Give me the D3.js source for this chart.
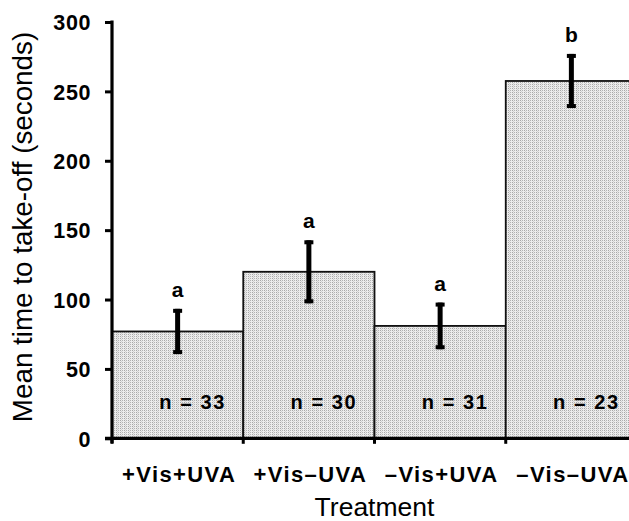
<!DOCTYPE html>
<html>
<head>
<meta charset="utf-8">
<script src="https://cdn.jsdelivr.net/npm/d3@7/dist/d3.min.js"></script>
<style>
  html, body { margin: 0; padding: 0; background: #fff; }
  svg { display: block; }
  text { font-family: "Liberation Sans", Arial, Helvetica, sans-serif; fill: #000; }
</style>
</head>
<body>
<svg id="chart" width="629" height="521"></svg>
<script>
const categories = ["+Vis+UVA", "+Vis\u2013UVA", "\u2013Vis+UVA", "\u2013Vis\u2013UVA"];
const means = [77, 120, 81, 257.5];
const errors = [16.3, 22.7, 16.8, 19.5];
const letters = ["a", "a", "a", "b"];
const nLabels = ["n = 33", "n = 30", "n = 31", "n = 23"];
const yTicks = [0, 50, 100, 150, 200, 250, 300];

const data = categories.map((c, i) => ({ cat: c, mean: means[i], err: errors[i], letter: letters[i], n: nLabels[i] }));

const svg = d3.select("#chart");
const x0 = 112, x1 = 637, yBase = 438.3, yTopPx = 22;

const x = d3.scaleBand().domain(categories).range([x0, x1]).paddingInner(0).paddingOuter(0);
const y = d3.scaleLinear().domain([0, 300]).range([yBase, yTopPx]);

// pattern for bars
const defs = svg.append("defs");
const pat = defs.append("pattern").attr("id", "stipple").attr("patternUnits", "userSpaceOnUse")
  .attr("width", 4).attr("height", 2);
pat.append("rect").attr("width", 4).attr("height", 2).attr("fill", "#ececec");
pat.append("rect").attr("x", 0).attr("y", 0).attr("width", 1).attr("height", 1).attr("fill", "#a6a6a6");
pat.append("rect").attr("x", 2).attr("y", 0).attr("width", 1).attr("height", 1).attr("fill", "#b4b4b4");
pat.append("rect").attr("x", 1).attr("y", 1).attr("width", 1).attr("height", 1).attr("fill", "#d0d0d0");

// bars
svg.append("g").selectAll("rect").data(data).join("rect")
  .attr("x", d => x(d.cat))
  .attr("y", d => y(d.mean))
  .attr("width", x.bandwidth())
  .attr("height", d => yBase - y(d.mean))
  .attr("fill", "url(#stipple)")
  .attr("stroke", "#111")
  .attr("stroke-width", 1.8);

// n labels
svg.append("g").selectAll("text").data(data).join("text")
  .attr("x", d => x(d.cat) + x.bandwidth() / 2 + 15)
  .attr("y", 409)
  .attr("text-anchor", "middle")
  .attr("font-size", 20)
  .attr("font-weight", "bold")
  .attr("letter-spacing", 1.6)
  .text(d => d.n);

// error bars
const eb = svg.append("g");
data.forEach(d => {
  const cx = x(d.cat) + x.bandwidth() / 2;
  const yt = y(d.mean + d.err), yb = y(d.mean - d.err);
  eb.append("line").attr("x1", cx).attr("x2", cx).attr("y1", yt).attr("y2", yb)
    .attr("stroke", "#000").attr("stroke-width", 5);
  eb.append("rect").attr("x", cx - 4.5).attr("y", yt).attr("width", 9).attr("height", 4).attr("fill", "#000");
  eb.append("rect").attr("x", cx - 4.5).attr("y", yb - 4).attr("width", 9).attr("height", 4).attr("fill", "#000");
  eb.append("text").attr("x", cx).attr("y", yt - 12)
    .attr("text-anchor", "middle").attr("font-size", 21).attr("font-weight", "bold")
    .text(d.letter);
});

// y axis
const yAxis = d3.axisLeft(y).tickValues(yTicks).tickSize(7).tickPadding(14).tickFormat(d3.format("d"));
const gy = svg.append("g").attr("transform", `translate(${x0},0)`).call(yAxis);
gy.select(".domain").remove();
gy.selectAll(".tick line").attr("stroke", "#000").attr("stroke-width", 3);
gy.selectAll(".tick text").attr("font-size", 21.5).attr("font-weight", "bold").attr("letter-spacing", 0.6)
  .attr("font-family", "'Liberation Sans', Arial, sans-serif").attr("fill", "#000").attr("dy", "0.36em");
svg.append("line").attr("x1", x0).attr("x2", x0).attr("y1", yTopPx - 1.5).attr("y2", yBase + 5)
  .attr("stroke", "#000").attr("stroke-width", 3.2);

// x axis
const xTickPos = categories.map(c => x(c)).concat([x1]);
svg.append("line").attr("x1", x0 - 7).attr("x2", 629).attr("y1", yBase).attr("y2", yBase)
  .attr("stroke", "#000").attr("stroke-width", 3.2);
svg.append("g").selectAll("line").data(xTickPos).join("line")
  .attr("x1", d => d).attr("x2", d => d).attr("y1", yBase).attr("y2", yBase + 5.5)
  .attr("stroke", "#000").attr("stroke-width", 3);

// category labels
svg.append("g").selectAll("text").data(categories).join("text")
  .attr("x", d => x(d) + x.bandwidth() / 2 + 1.5)
  .attr("y", 482.3)
  .attr("text-anchor", "middle")
  .attr("font-size", 22)
  .attr("font-weight", "bold")
  .attr("letter-spacing", 1.4)
  .text(d => d);

// axis titles
svg.append("text").attr("x", 374.5).attr("y", 515.5).attr("text-anchor", "middle")
  .attr("font-size", 26.5).text("Treatment");
svg.append("text").attr("transform", "translate(32,227) rotate(-90)").attr("text-anchor", "middle")
  .attr("font-size", 27.8).text("Mean time to take-off (seconds)");
</script>
</body>
</html>
